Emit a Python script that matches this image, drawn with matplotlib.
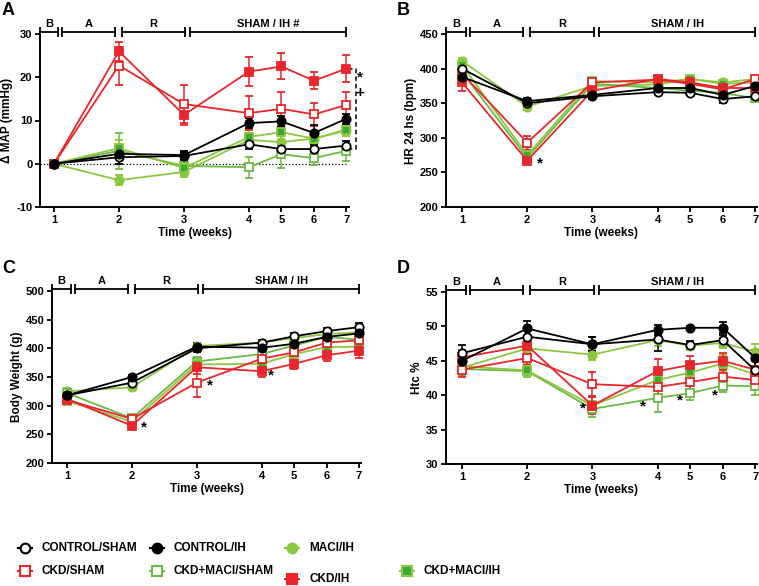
import numpy as np
import matplotlib
matplotlib.use("Agg")
import matplotlib.pyplot as plt
from matplotlib.lines import Line2D
import matplotlib.transforms as mtransforms

plt.rcParams['font.family'] = ['Liberation Sans', 'DejaVu Sans']
plt.rcParams['font.weight'] = 'bold'
plt.rcParams['axes.unicode_minus'] = False

# semanas y grupos
weeks = [1, 2, 3, 4, 5, 6, 7]
groups = ['CONTROL/SHAM', 'CONTROL/IH', 'MACI/IH', 'CKD/SHAM',
          'CKD+MACI/SHAM', 'CKD/IH', 'CKD+MACI/IH']

# A: delta MAP (mmHg)
map_mean = {
    'CONTROL/SHAM': [0, 1.5, 1.8, 4.5, 3.4, 3.4, 4.2],
    'CONTROL/IH': [0, 2.3, 2.0, 9.4, 9.8, 7.1, 10.4],
    'MACI/IH': [0, -3.8, -1.9, 5.5, 5.0, 5.8, 7.7],
    'CKD/SHAM': [0, 22.7, 13.8, 11.7, 12.7, 11.4, 13.6],
    'CKD+MACI/SHAM': [0, 3.0, -0.5, -0.8, 2.2, 1.3, 3.0],
    'CKD/IH': [0, 26.0, 11.3, 21.3, 22.5, 19.2, 22.0],
    'CKD+MACI/IH': [0, 3.6, -1.0, 6.2, 7.3, 5.8, 7.9],
}
map_err = {
    'CONTROL/SHAM': [0, 1.5, 1.0, 1.0, 1.0, 1.0, 1.0],
    'CONTROL/IH': [0, 1.0, 1.0, 1.2, 1.2, 1.8, 1.2],
    'MACI/IH': [0, 1.2, 1.2, 1.5, 1.5, 1.2, 1.2],
    'CKD/SHAM': [0, 4.4, 4.3, 3.9, 3.9, 2.6, 3.0],
    'CKD+MACI/SHAM': [0, 4.2, 1.5, 2.4, 3.2, 1.5, 2.3],
    'CKD/IH': [0, 2.2, 2.4, 3.4, 3.0, 1.9, 3.1],
    'CKD+MACI/IH': [0, 2.0, 1.5, 1.5, 1.5, 1.2, 1.2],
}

# B: HR 24 hs (bpm)
hr_mean = {
    'CONTROL/SHAM': [400, 350, 360, 366, 365, 356, 360],
    'CONTROL/IH': [388, 353, 362, 372, 372, 362, 375],
    'MACI/IH': [411, 345, 375, 377, 385, 380, 385],
    'CKD/SHAM': [393, 293, 380, 384, 378, 370, 385],
    'CKD+MACI/SHAM': [395, 271, 378, 372, 368, 365, 357],
    'CKD/IH': [380, 267, 368, 385, 380, 372, 372],
    'CKD+MACI/IH': [405, 275, 382, 380, 385, 378, 380],
}
hr_err = {
    'CONTROL/SHAM': [3, 5, 4, 3, 3, 6, 5],
    'CONTROL/IH': [5, 5, 5, 4, 4, 5, 5],
    'MACI/IH': [4, 5, 5, 4, 4, 4, 4],
    'CKD/SHAM': [7, 10, 5, 4, 4, 5, 5],
    'CKD+MACI/SHAM': [6, 4, 5, 4, 4, 5, 4],
    'CKD/IH': [12, 5, 5, 4, 5, 5, 5],
    'CKD+MACI/IH': [5, 5, 5, 4, 4, 5, 5],
}

# C: peso corporal (g)
bw_mean = {
    'CONTROL/SHAM': [318, 340, 400, 410, 421, 430, 437],
    'CONTROL/IH': [318, 350, 403, 401, 408, 420, 426],
    'MACI/IH': [325, 332, 404, 410, 418, 425, 428],
    'CKD/SHAM': [310, 277, 340, 382, 393, 410, 414],
    'CKD+MACI/SHAM': [322, 278, 377, 390, 405, 420, 415],
    'CKD/IH': [312, 265, 367, 360, 373, 388, 396],
    'CKD+MACI/IH': [308, 272, 372, 373, 390, 402, 403],
}
bw_err = {
    'CONTROL/SHAM': [5, 5, 6, 5, 5, 6, 8],
    'CONTROL/IH': [5, 4, 6, 5, 5, 6, 6],
    'MACI/IH': [6, 5, 5, 5, 5, 5, 5],
    'CKD/SHAM': [6, 5, 25, 8, 8, 8, 8],
    'CKD+MACI/SHAM': [8, 5, 8, 6, 6, 6, 8],
    'CKD/IH': [6, 4, 12, 10, 9, 10, 12],
    'CKD+MACI/IH': [6, 5, 8, 7, 7, 7, 8],
}

# D: hematocrito (%)
htc_mean = {
    'CONTROL/SHAM': [46.1, 48.5, 47.4, 48.1, 47.3, 48.0, 43.6],
    'CONTROL/IH': [45.0, 49.7, 47.4, 49.5, 49.8, 49.8, 45.4],
    'MACI/IH': [44.0, 46.8, 45.9, 48.0, 47.2, 47.6, 46.3],
    'CKD/SHAM': [43.7, 45.4, 41.6, 41.2, 41.9, 42.7, 42.2],
    'CKD+MACI/SHAM': [43.8, 43.5, 38.0, 39.6, 40.3, 41.4, 41.3],
    'CKD/IH': [45.5, 47.2, 38.5, 43.5, 44.4, 45.0, 43.7],
    'CKD+MACI/IH': [44.2, 43.6, 38.5, 42.2, 43.3, 44.6, 43.0],
}
htc_err = {
    'CONTROL/SHAM': [1.2, 1.0, 1.0, 1.7, 0.6, 0.8, 1.6],
    'CONTROL/IH': [1.0, 1.1, 1.0, 0.7, 0.3, 0.8, 1.2],
    'MACI/IH': [1.0, 1.0, 0.8, 0.8, 0.6, 0.8, 1.1],
    'CKD/SHAM': [1.0, 1.0, 1.7, 1.2, 1.2, 1.0, 1.2],
    'CKD+MACI/SHAM': [1.0, 0.8, 1.2, 2.0, 1.0, 1.0, 1.2],
    'CKD/IH': [1.0, 1.0, 1.2, 1.8, 1.3, 1.2, 1.2],
    'CKD+MACI/IH': [1.0, 1.0, 1.2, 1.3, 1.3, 1.2, 1.2],
}

# asteriscos (semana, valor)
stars_b = [(2.2, 263)]
stars_c = [(2.18, 262), (3.2, 335), (4.28, 352)]
stars_d = [(2.85, 38.0), (3.78, 38.3), (4.7, 39.2), (5.75, 40.0)]

red = '#E8262B'
lgreen = '#8DC63F'
green = '#6CB944'
dgreen = '#3AA935'
styles = {
    'CONTROL/SHAM': dict(color='black', marker='o', mfc='white', mec='black'),
    'CONTROL/IH': dict(color='black', marker='o', mfc='black', mec='black'),
    'MACI/IH': dict(color=lgreen, marker='o', mfc=lgreen, mec=lgreen),
    'CKD/SHAM': dict(color=red, marker='s', mfc='white', mec=red),
    'CKD+MACI/SHAM': dict(color=green, marker='s', mfc='white', mec=green),
    'CKD/IH': dict(color=red, marker='s', mfc=red, mec=red),
    'CKD+MACI/IH': dict(color=lgreen, marker='s', mfc=dgreen, mec=lgreen),
}
draw_order = ['MACI/IH', 'CKD+MACI/SHAM', 'CKD+MACI/IH', 'CKD/SHAM', 'CKD/IH',
              'CONTROL/SHAM', 'CONTROL/IH']


def fwd(w):
    w = np.asarray(w, dtype=float)
    return np.where(w <= 4, w, 4 + (w - 4) / 2)


def inv(s):
    s = np.asarray(s, dtype=float)
    return np.where(s <= 4, s, 4 + (s - 4) * 2)


W, H = 759, 586
fig = plt.figure(figsize=(W / 100, H / 100), dpi=100)


def make_ax(x0, x1, ytop, ybot):
    return fig.add_axes([x0 / W, 1 - ybot / H, (x1 - x0) / W, (ybot - ytop) / H])


def panel(ax, means, errs, ylim, yticks, ylabel, xlim, last_label):
    ax.set_xscale('function', functions=(fwd, inv))
    for g in draw_order:
        st = styles[g]
        ax.errorbar(weeks, means[g], yerr=errs[g], color=st['color'], marker=st['marker'],
                    mfc=st['mfc'], mec=st['mec'], ms=6, mew=1.3, lw=1.3,
                    elinewidth=1.1, capsize=2.8, capthick=1.1, clip_on=False)
    ax.set_xlim(*xlim)
    ax.set_ylim(*ylim)
    ax.set_yticks(yticks)
    ax.set_xticks(weeks)
    ax.set_xticklabels([str(w) for w in weeks])
    ax.set_ylabel(ylabel, fontsize=8.5, fontweight='bold', labelpad=2)
    ax.set_xlabel('Time (weeks)', fontsize=8.5, fontweight='bold', labelpad=2)
    for s in ['top', 'right']:
        ax.spines[s].set_visible(False)
    for s in ['left', 'bottom']:
        ax.spines[s].set_linewidth(1.4)
    ax.tick_params(direction='out', width=1.3, length=3.5, labelsize=8, pad=2)
    for lab in ax.get_xticklabels() + ax.get_yticklabels():
        lab.set_fontweight('bold')
    # barras de periodos
    tr = mtransforms.blended_transform_factory(ax.transData, ax.transAxes)
    segs = [(xlim[0], 1.06, 'B'), (1.12, 1.94, 'A'), (2.05, 3.02, 'R'),
            (3.1, 7.0, last_label)]
    for a, b, lab in segs:
        ax.plot([a, b], [1.012, 1.012], color='black', lw=1.3, transform=tr,
                clip_on=False, marker='|', ms=7, mew=1.3)
        xm = inv((fwd(a) + fwd(b)) / 2)
        ax.text(xm, 1.058, lab, transform=tr, ha='center', va='center',
                fontsize=8, fontweight='bold')


axA = make_ax(40, 349, 34, 207)
panel(axA, map_mean, map_err, (-10, 30), [-10, 0, 10, 20, 30], 'Δ MAP (mmHg)',
      (0.785, 7.08), 'SHAM / IH #')
axA.plot([0.785, 7], [0, 0], ':', color='black', lw=0.9, zorder=0)
axA.plot([7.05, 7.3, 7.3, 7.05], [22.0, 22.0, 3.3, 3.3], '--', color='black',
         lw=1.1, clip_on=False, dashes=(3, 2))
axA.text(7.42, 20.0, '*', fontsize=11, fontweight='bold', ha='center', va='center')
axA.text(7.42, 16.4, '+', fontsize=11, fontweight='bold', ha='center', va='center')

axB = make_ax(446, 757, 34, 207)
panel(axB, hr_mean, hr_err, (200, 450), [200, 250, 300, 350, 400, 450], 'HR 24 hs (bpm)',
      (0.754, 7.05), 'SHAM / IH')
for x, y in stars_b:
    axB.text(x, y, '*', fontsize=11, fontweight='bold', ha='center', va='center')

axC = make_ax(52, 361, 291, 463)
panel(axC, bw_mean, bw_err, (200, 500), [200, 250, 300, 350, 400, 450, 500],
      'Body Weight (g)', (0.77, 7.06), 'SHAM / IH')
for x, y in stars_c:
    axC.text(x, y, '*', fontsize=11, fontweight='bold', ha='center', va='center')

axD = make_ax(446, 757, 292, 464)
panel(axD, htc_mean, htc_err, (30, 55), [30, 35, 40, 45, 50, 55], 'Htc %',
      (0.754, 7.05), 'SHAM / IH')
for x, y in stars_d:
    axD.text(x, y, '*', fontsize=11, fontweight='bold', ha='center', va='center')

# letras de panel
for lab, x, y in [('A', 2, 2), ('B', 397, 2), ('C', 2, 260), ('D', 397, 260)]:
    fig.text(x / W, 1 - y / H, lab, fontsize=13, fontweight='bold', va='top')

# leyenda manual
leg_pos = {
    'CONTROL/SHAM': (25, 548), 'CKD/SHAM': (25, 571),
    'CONTROL/IH': (157, 548), 'CKD+MACI/SHAM': (157, 571),
    'MACI/IH': (292, 548), 'CKD/IH': (292, 579),
    'CKD+MACI/IH': (407, 571),
}
for g, (x, y) in leg_pos.items():
    st = styles[g]
    fy = 1 - y / H
    fig.add_artist(Line2D([(x - 7) / W, (x + 7) / W], [fy, fy], color=st['color'],
                          lw=1.5, transform=fig.transFigure))
    fig.add_artist(Line2D([x / W], [fy], marker=st['marker'], mfc=st['mfc'],
                          mec=st['mec'], ms=7, mew=1.5, transform=fig.transFigure))
    fig.text((x + 17) / W, fy, g, fontsize=8.5, fontweight='bold', va='center')

fig.savefig('out.png', dpi=100)
